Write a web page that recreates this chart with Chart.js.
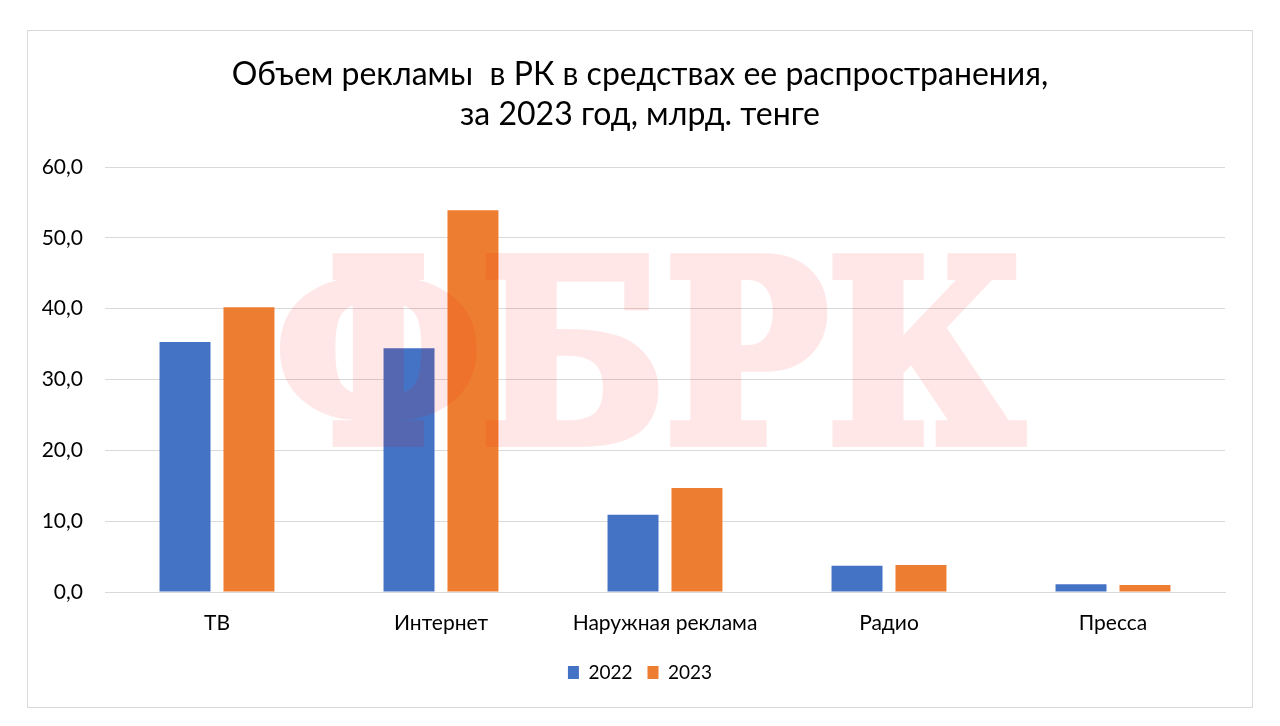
<!DOCTYPE html>
<html>
<head>
<meta charset="utf-8">
<script src="https://cdn.jsdelivr.net/npm/chart.js@4/dist/chart.umd.min.js"></script>
<style>
html,body{margin:0;padding:0;background:#fff;}
#wrap{position:absolute;left:0;top:0;width:1280px;height:726px;}
</style>
</head>
<body>
<div id="wrap"><canvas id="c" width="1280" height="726"></canvas></div>
<script>
const categories = ["ТВ", "Интернет", "Наружная реклама", "Радио", "Пресса"];
const series2022 = [35.3, 34.4, 10.9, 3.7, 1.1];
const series2023 = [40.2, 53.9, 14.7, 3.8, 1.0];
const seriesNames = ["2022", "2023"];
const titleLines = ["Объем рекламы  в РК в средствах ее распространения,", "за 2023 год, млрд. тенге"];
const watermarkText = "ФБРК";

const FONT = "Lato";

const framePlugin = {
  id: 'frame',
  beforeDraw(chart) {
    const ctx = chart.ctx;
    ctx.save();
    ctx.fillStyle = '#ffffff';
    ctx.fillRect(0, 0, chart.width, chart.height);
    ctx.strokeStyle = '#d9d9d9';
    ctx.lineWidth = 1;
    ctx.strokeRect(27.5, 30.5, 1225, 677);
    ctx.restore();
  }
};

// center title and legend on the outer frame rather than on the plot box
const centerPlugin = {
  id: 'centerOnFrame',
  afterLayout(chart) {
    const frameCenter = 640;
    if (chart.titleBlock) {
      const d = frameCenter - (chart.titleBlock.left + chart.titleBlock.right) / 2;
      chart.titleBlock.left += d; chart.titleBlock.right += d;
    }
    if (chart.legend) {
      const d = frameCenter - (chart.legend.left + chart.legend.right) / 2;
      chart.legend.left += d; chart.legend.right += d;
    }
  }
};

const watermarkPlugin = {
  id: 'watermark',
  afterDatasetsDraw(chart) {
    const off = document.createElement('canvas');
    off.width = chart.width; off.height = chart.height;
    const o = off.getContext('2d');
    const sw = 12;
    o.font = "bold 250px 'DejaVu Serif', serif";
    const w = o.measureText(watermarkText).width;
    const sx = (760 - sw) / w;
    o.translate(270 + sw / 2, 447 - sw / 2);
    o.scale(sx, 1);
    o.fillStyle = '#ff0000';
    o.strokeStyle = '#ff0000';
    o.lineWidth = sw;
    o.lineJoin = 'miter';
    o.textBaseline = 'alphabetic';
    o.fillText(watermarkText, 0, 0);
    o.strokeText(watermarkText, 0, 0);
    const ctx = chart.ctx;
    ctx.save();
    ctx.globalAlpha = 0.09;
    ctx.drawImage(off, 0, 0);
    ctx.restore();
  }
};

new Chart(document.getElementById('c'), {
  type: 'bar',
  data: {
    labels: categories,
    datasets: [
      { label: seriesNames[0], data: series2022, backgroundColor: '#4472C4', barPercentage: 0.797, categoryPercentage: 0.571 },
      { label: seriesNames[1], data: series2023, backgroundColor: '#ED7D31', barPercentage: 0.797, categoryPercentage: 0.571 }
    ]
  },
  options: {
    responsive: false,
    animation: false,
    devicePixelRatio: 1,
    layout: { padding: { left: 27, right: 55, top: 30, bottom: 34 } },
    plugins: {
      title: {
        display: true,
        text: titleLines,
        color: '#000000',
        font: { family: FONT, size: 32, weight: 'normal', lineHeight: 1.25 },
        padding: { top: 25, bottom: 32 }
      },
      legend: {
        position: 'bottom',
        labels: {
          boxWidth: 11,
          boxHeight: 13,
          padding: 15,
          color: '#000000',
          font: { family: FONT, size: 19 }
        }
      },
      tooltip: { enabled: false }
    },
    scales: {
      x: {
        afterFit(scale) { scale.height = 56; },
        grid: { display: false },
        border: { display: true, color: '#d9d9d9' },
        ticks: { color: '#000000', font: { family: FONT, size: 21 }, padding: 11 }
      },
      y: {
        min: 0, max: 60,
        afterFit(scale) { scale.width = 78; },
        grid: { color: '#d9d9d9', drawTicks: false },
        border: { display: false },
        ticks: {
          stepSize: 10,
          color: '#000000',
          padding: 22,
          font: { family: FONT, size: 21 },
          callback: v => v.toFixed(1).replace('.', ',')
        }
      }
    }
  },
  plugins: [framePlugin, centerPlugin, watermarkPlugin]
});
</script>
</body>
</html>
